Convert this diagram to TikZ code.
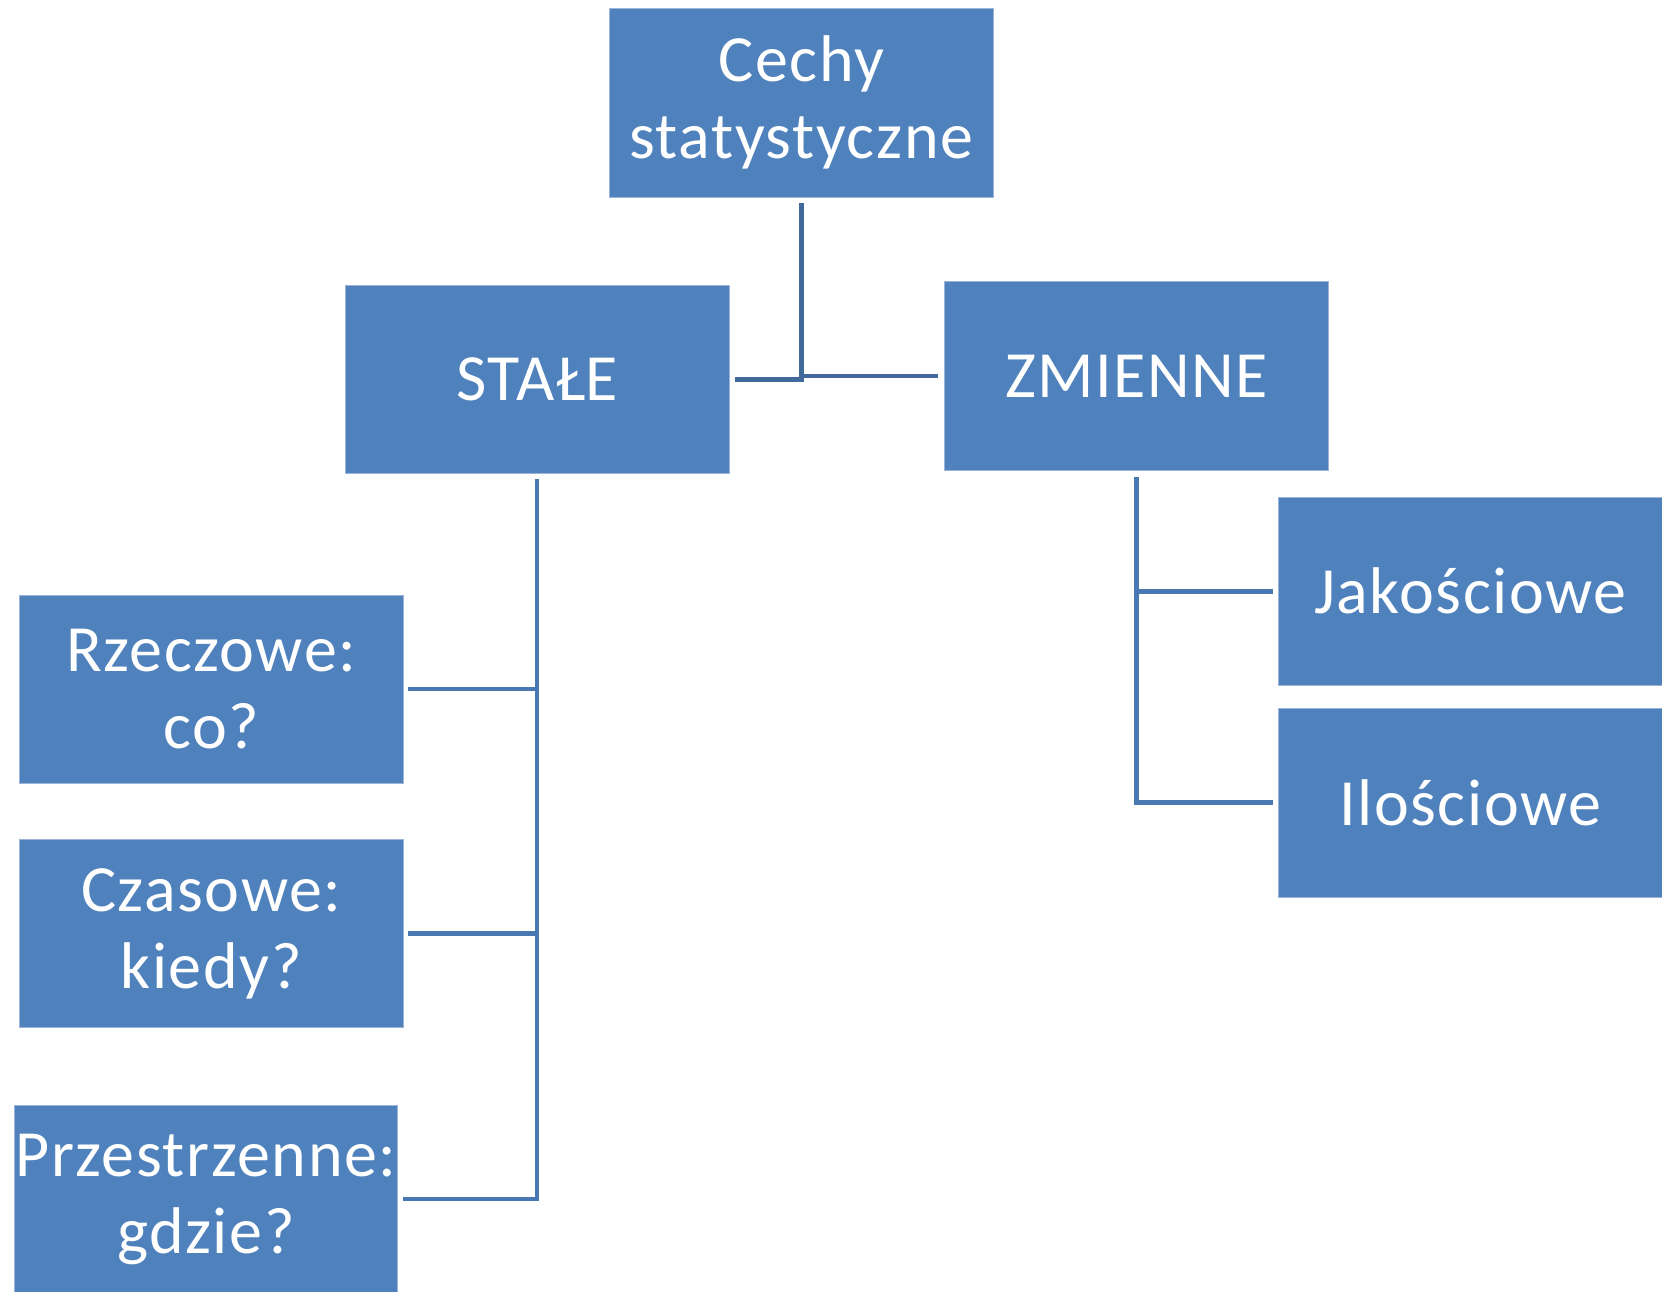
\documentclass[tikz,border=0pt]{standalone}
\usepackage{fontspec}
\setmainfont[LetterSpace=2.4]{Carlito}
\definecolor{boxfill}{HTML}{4F81BD}
\definecolor{boxedge}{HTML}{9CB4D8}
\definecolor{linkdark}{HTML}{41699B}
\definecolor{linklight}{HTML}{4A78B2}
\begin{document}
\begin{tikzpicture}[x=1pt,y=-1pt,
  cbox/.style={rectangle, fill=boxfill, draw=boxedge, line width=0.8pt,
    minimum width=383.5pt, minimum height=188.5pt, inner sep=0pt,
    text=white, align=center, font=\fontsize{66}{77}\selectfont},
  toplink/.style={draw=linkdark, line width=4.7pt},
  sublink/.style={draw=linklight, line width=4.5pt}]
\useasboundingbox (0,0) rectangle (1662,1292);

% boxes
\node[cbox] (cechy) at (801.2,102.7) {Cechy\\statystyczne};
\node[cbox] (stale) at (537.2,379.5) {STAŁE};
\node[cbox] (zm)    at (1136.6,376.1) {ZMIENNE};
\node[cbox] (jak)   at (1470.3,591.3) {Jakościowe};
\node[cbox] (ilo)   at (1470.3,802.7) {Ilościowe};
\node[cbox] (rze)   at (211.2,689.2) {Rzeczowe:\\co?};
\node[cbox] (cza)   at (211.2,933.5) {Czasowe:\\kiedy?};
\node[cbox] (prz)   at (205.9,1199.2) {Przestrzenne:\\gdzie?};

% root to first level
\draw[toplink] ([yshift=-6pt]cechy.south) |- ([xshift=6pt]stale.east);
\draw[toplink] ([yshift=-6pt]cechy.south) |- ([xshift=-6pt]zm.west);

% STAŁE branch
\draw[sublink] ([yshift=-5pt]stale.south) |- ([xshift=5pt]rze.east);
\draw[sublink] ([yshift=-5pt]stale.south) |- ([xshift=5pt]cza.east);
\draw[sublink] ([yshift=-5pt]stale.south) |- ([xshift=5pt]prz.east);

% ZMIENNE branch
\draw[sublink] ([yshift=-6pt]zm.south) |- ([xshift=-5pt]jak.west);
\draw[sublink] ([yshift=-6pt]zm.south) |- ([xshift=-5pt]ilo.west);
\end{tikzpicture}
\end{document}
